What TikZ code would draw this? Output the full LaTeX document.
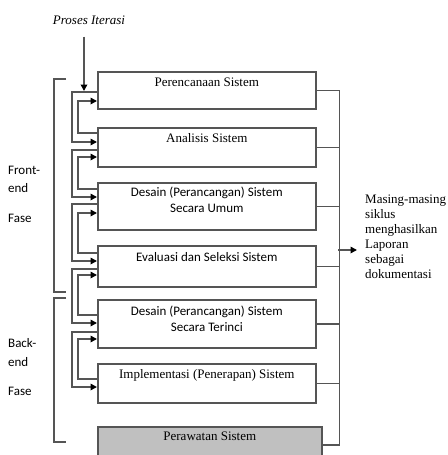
\documentclass[tikz,border=0pt]{standalone}
\usepackage{fontspec}
\setmainfont{Liberation Serif}
\newfontfamily\calibri{Carlito}
\usetikzlibrary{positioning,arrows.meta}
\definecolor{linegray}{RGB}{85,85,85}
\definecolor{boxgray}{RGB}{192,192,192}

\tikzset{
  wire/.style={draw=linegray, line width=1.6pt},
  feed/.style={wire, -{Triangle[color=black,length=6.5pt,width=6.5pt]}},
  phase/.style={draw=linegray, line width=1.6pt, minimum width=218pt, anchor=north west, inner sep=0pt},
  boxtext/.style={font=\fontsize{13}{16}\selectfont, inner sep=0pt, align=center},
  calitext/.style={boxtext, font=\calibri\fontsize{13}{16}\selectfont},
  sidetext/.style={font=\calibri\fontsize{13}{16}\selectfont, anchor=west, inner sep=0pt},
}

\begin{document}
\begin{tikzpicture}[x=1pt, y=-1pt]
    \useasboundingbox (0,0) rectangle (447,455);

    % tahapan
    \node[phase, minimum height=37pt] (p1) at (97,71) {};
    \node[phase, minimum height=39pt] (p2) at (97,127) {};
    \node[phase, minimum height=47pt] (p3) at (97,182) {};
    \node[phase, minimum height=41pt] (p4) at (97,245) {};
    \node[phase, minimum height=48pt] (p5) at (97,299) {};
    \node[phase, minimum height=39pt] (p6) at (97,363) {};
    \node[phase, minimum height=36pt, minimum width=224pt, fill=boxgray] (p7) at (97,426) {};

    \node[boxtext, below=7pt of p1.north] (t1) {Perencanaan Sistem};
    \node[boxtext, below=6pt of p2.north] (t2) {Analisis Sistem};
    \node[calitext, below=5pt of p3.north] (t3) {Desain (Perancangan) Sistem\\Secara Umum};
    \node[calitext, below=7pt of p4.north] (t4) {Evaluasi dan Seleksi Sistem};
    \node[calitext, below=7pt of p5.north] (t5) {Desain (Perancangan) Sistem\\Secara Terinci};
    \node[boxtext, below=6pt of p6.north] (t6) {Implementasi (Penerapan) Sistem};
    \node[boxtext, below=6pt of p7.north] (t7) {Perawatan Sistem};

    % iterasi
    \node[boxtext, font=\itshape\fontsize{13}{16}\selectfont] (iter) at (89,20) {Proses Iterasi};
    \draw[feed] (iter.south -| 84,0) ++(0,12) -- (84,91);

    \foreach \up/\dn/\o/\i/\bo/\bi in {p1/p2/92/142/133/101, p2/p3/150/197/189/157,
        p3/p4/204/261/253/213, p4/p5/269/323/315/275, p5/p6/332/387/379/339}{
        \draw[feed] (\up.west |- 0,\o) -| (72,\i) -- (\dn.west |- 0,\i);
        \draw[feed] (\dn.west |- 0,\bo) -| (78,\bi) -- (\up.west |- 0,\bi);
    }

    % dokumentasi
    \draw[wire] (p1.east) -- ++(23,0) |- (p7.east);
    \foreach \b in {p2,p3,p4,p5,p6}
        \draw[wire] (\b.east) -- ++(23,0);
    \node[boxtext, align=left, anchor=north west, font=\fontsize{13}{15}\selectfont] (note) at (365,195)
        {Masing-masing\\siklus\\menghasilkan\\Laporan\\sebagai\\dokumentasi};
    \coordinate (out) at (357,250);
    \draw[feed] (out -| 338,0) -- (out);

    % fase
    \draw[wire] (66,79) -| (54,292) -- (66,292);
    \draw[wire] (66,298) -| (54,442) -- (66,442);
    \node[sidetext] (fe1) at (8,170) {Front-};
    \node[sidetext] (fe2) at (8,188) {end};
    \node[sidetext] (fe3) at (8,218) {Fase};
    \node[sidetext] (be1) at (8,343) {Back-};
    \node[sidetext] (be2) at (8,362) {end};
    \node[sidetext] (be3) at (8,391) {Fase};
\end{tikzpicture}
\end{document}
